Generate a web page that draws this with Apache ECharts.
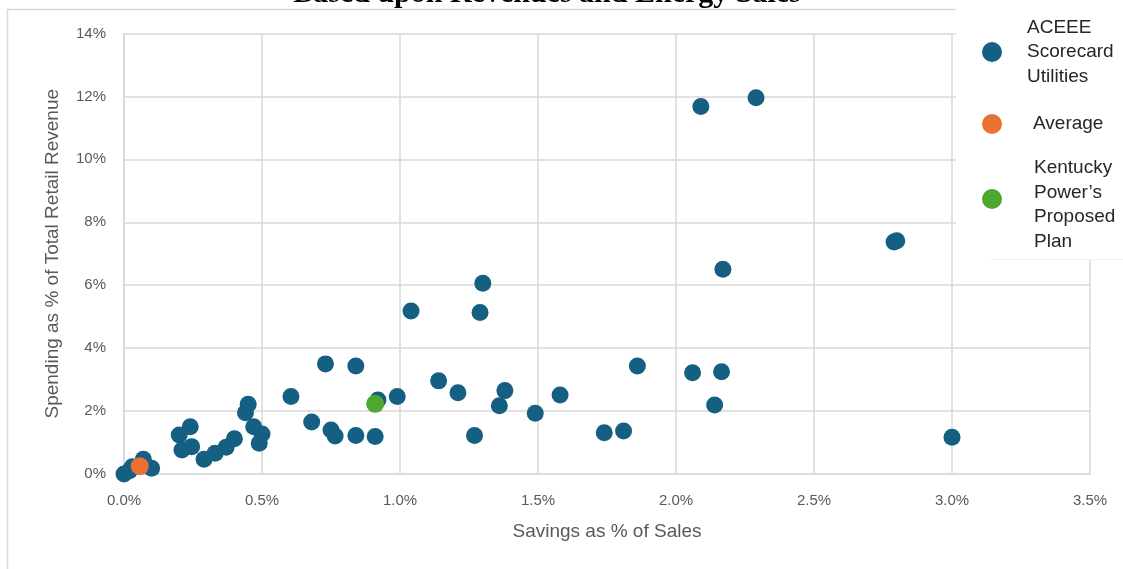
<!DOCTYPE html>
<html>
<head>
<meta charset="utf-8">
<script src="https://cdn.jsdelivr.net/npm/echarts@6/dist/echarts.min.js"></script>
<style>
  html, body { margin: 0; padding: 0; background: #ffffff; }
  #chart { width: 1123px; height: 569px; }
</style>
</head>
<body>
<div id="chart"></div>
<script>
// ---- Data (percent units) ----
const chartTitle = 'Based upon Revenues and Energy Sales';
const xAxisTitle = 'Savings as % of Sales';
const yAxisTitle = 'Spending as % of Total Retail Revenue';

const seriesNames = ['ACEEE Scorecard Utilities', 'Average', 'Kentucky Power\u2019s Proposed Plan'];
const legendLines = [['ACEEE', 'Scorecard', 'Utilities'], ['Average'], ['Kentucky', 'Power\u2019s', 'Proposed', 'Plan']];

const aceeeSavings = [0.00, 0.02, 0.03, 0.07, 0.10, 0.20, 0.24, 0.21, 0.245, 0.29, 0.33, 0.37, 0.40,
  0.44, 0.45, 0.47, 0.50, 0.49, 0.605, 0.68, 0.73, 0.75, 0.765, 0.84, 0.84, 0.91, 0.92, 0.99,
  1.04, 1.14, 1.21, 1.27, 1.29, 1.30, 1.36, 1.38, 1.49, 1.58, 1.74, 1.81, 1.86, 2.06, 2.09,
  2.14, 2.165, 2.17, 2.29, 2.79, 2.80, 3.00];
const aceeeSpending = [0.00, 0.10, 0.23, 0.47, 0.18, 1.24, 1.50, 0.76, 0.87, 0.47, 0.66, 0.85, 1.12,
  1.95, 2.22, 1.50, 1.27, 0.98, 2.46, 1.65, 3.50, 1.40, 1.21, 3.43, 1.22, 1.19, 2.35, 2.46,
  5.18, 2.96, 2.58, 1.22, 5.13, 6.06, 2.17, 2.65, 1.93, 2.51, 1.31, 1.37, 3.43, 3.22, 11.68,
  2.19, 3.25, 6.51, 11.96, 7.37, 7.41, 1.17];

const averageSavings = [0.057];
const averageSpending = [0.25];

const kentuckySavings = [0.91];
const kentuckySpending = [2.23];

const xTicks = [0, 0.5, 1.0, 1.5, 2.0, 2.5, 3.0, 3.5];
const yTicks = [0, 2, 4, 6, 8, 10, 12, 14];

const colors = ['#156082', '#E97132', '#4EA72E'];

// ---- Build ----
const zip = (xs, ys) => xs.map((x, i) => [x, ys[i]]);

const chart = echarts.init(document.getElementById('chart'), null, { renderer: 'canvas' });

const fontFam = '"Liberation Sans", Arial, sans-serif';
const gridColor = '#d9d9d9';
const tickFont = { color: '#595959', fontSize: 15, fontFamily: fontFam };
const nameFont = { color: '#595959', fontSize: 19, fontFamily: fontFam };

function legendFor(i, top, indent, lead) {
  return {
    data: [seriesNames[i]],
    orient: 'vertical',
    left: 982,
    top: top,
    padding: 0,
    itemWidth: 60,
    itemHeight: 20,
    icon: 'circle',
    selectedMode: false,
    formatter: () => (lead ? '{s| }\n' : '') + legendLines[i].map(l => '{t|' + l + '}').join('\n'),
    textStyle: {
      color: '#262626',
      fontSize: 19,
      lineHeight: 24.5,
      fontFamily: fontFam,
      rich: {
        t: { color: '#262626', fontSize: 19, lineHeight: 24.5, fontFamily: fontFam, padding: [0, 0, 0, indent] },
        s: { fontSize: 4, lineHeight: lead, fontFamily: fontFam }
      }
    },
    z: 10
  };
}

const option = {
  animation: false,
  backgroundColor: '#ffffff',
  grid: { left: 124, right: 33, top: 33.5, bottom: 95, containLabel: false, outerBoundsMode: 'none' },
  xAxis: {
    type: 'value',
    min: xTicks[0],
    max: xTicks[xTicks.length - 1],
    interval: 0.5,
    name: xAxisTitle,
    nameLocation: 'middle',
    nameGap: 48,
    nameTextStyle: nameFont,
    axisLine: { show: true, onZero: false, lineStyle: { color: gridColor, width: 1.5 } },
    axisTick: { show: false },
    axisLabel: Object.assign({ margin: 19, formatter: (v) => v.toFixed(1) + '%' }, tickFont),
    splitLine: { show: true, lineStyle: { color: gridColor, width: 1.5 } }
  },
  yAxis: {
    type: 'value',
    min: yTicks[0],
    max: yTicks[yTicks.length - 1],
    interval: 2,
    name: yAxisTitle,
    nameLocation: 'middle',
    nameRotate: 90,
    nameGap: 62,
    nameTextStyle: nameFont,
    axisLine: { show: true, onZero: false, lineStyle: { color: gridColor, width: 1.5 } },
    axisTick: { show: false },
    axisLabel: Object.assign({ margin: 18, formatter: (v) => v + '%' }, tickFont),
    splitLine: { show: true, lineStyle: { color: gridColor, width: 1.5 } }
  },
  legend: [
    legendFor(0, 15.25, 0, 0),
    legendFor(1, 111.75, 6, 0),
    legendFor(2, 144, 7, 12)
  ],
  graphic: [
    // outer chart border (left and top)
    { type: 'polyline', z: 1, silent: true,
      shape: { points: [[7.5, 569], [7.5, 9.5], [956, 9.5]] },
      style: { stroke: '#d9d9d9', lineWidth: 1.5, fill: null } },
    // legend box background
    { type: 'rect', z: 5, silent: true,
      shape: { x: 956, y: 0, width: 167, height: 259 },
      style: { fill: '#ffffff' } },
    { type: 'line', z: 5, silent: true,
      shape: { x1: 990, y1: 259.5, x2: 1123, y2: 259.5 },
      style: { stroke: '#f2f2f2', lineWidth: 1 } },
    // chart title (cropped at top in the reference)
    { type: 'text', z: 6, silent: true,
      style: { text: chartTitle, x: 547, y: -5.5, align: 'center', verticalAlign: 'middle',
        font: 'bold 30px "Liberation Serif", "Times New Roman", serif', fill: '#000000' } }
  ],
  series: [
    { name: seriesNames[0], type: 'scatter', data: zip(aceeeSavings, aceeeSpending),
      symbolSize: 17, itemStyle: { color: colors[0], opacity: 1 }, z: 2 },
    { name: seriesNames[1], type: 'scatter', data: zip(averageSavings, averageSpending),
      symbolSize: 18, itemStyle: { color: colors[1], opacity: 1 }, z: 3 },
    { name: seriesNames[2], type: 'scatter', data: zip(kentuckySavings, kentuckySpending),
      symbolSize: 18, itemStyle: { color: colors[2], opacity: 1 }, z: 4 }
  ]
};

chart.setOption(option);
</script>
</body>
</html>
